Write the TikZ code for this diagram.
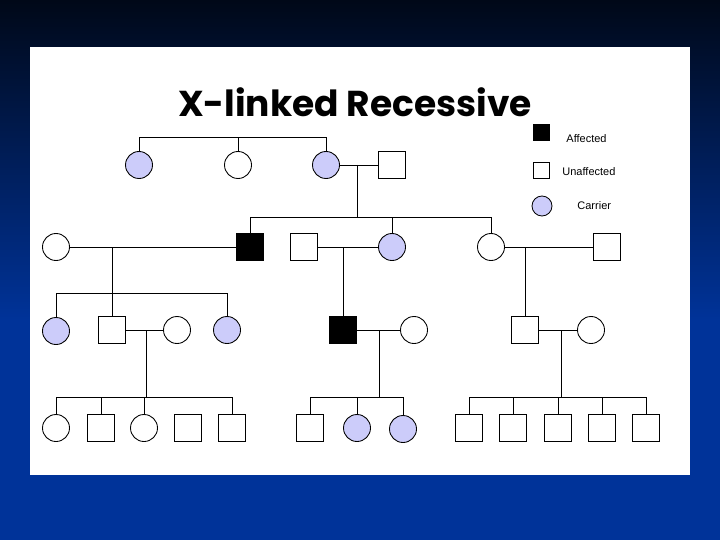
\documentclass[tikz,border=0pt]{standalone}
\usepackage{fontspec}
\setmainfont{Liberation Sans}
\newfontfamily\titlefont{Poppins}
\usetikzlibrary{positioning}
\definecolor{carrierblue}{RGB}{204,204,250}
\definecolor{slidetop}{RGB}{0,8,24}
\definecolor{slidebottom}{RGB}{0,51,153}
\tikzset{
	every node/.append style={
		inner sep=0pt,
	},
	male/.style={
		draw,
		rectangle,
		fill=white,
		minimum size=27pt,
	},
	female/.style={
		draw,
		circle,
		fill=white,
		minimum size=27pt,
	},
	affected/.append style={
		fill=black,
	},
	carrier/.append style={
		fill=carrierblue,
	},
	keylabel/.style={
		anchor=west,
		font={\fontsize{11}{12}\selectfont}
	}
}

\begin{document}
\begin{tikzpicture}[x=1pt, y=-1pt, line width=0.85pt]
\useasboundingbox (0,0) rectangle (720,540);
\fill[slidebottom] (0,0) rectangle (720,540);
\shade[top color=slidetop, bottom color=slidebottom] (0,0) rectangle (720,320);
\fill[white] (30,47) rectangle (690,475);

\node[font={\titlefont\bfseries\fontsize{36}{42}\selectfont}] (title) at (355,102) {X-linked Recessive};

% key
\node[male, affected, minimum size=16pt] (keyA) at (541,132) {};
\node[keylabel] (labA) at (566,139) {Affected};
\node[male, minimum size=16pt] (keyU) at (541,170) {};
\node[keylabel] (labU) at (562,172) {Unaffected};
\node[female, carrier, minimum size=20pt] (keyC) at (542,206) {};
\node[keylabel] (labC) at (577,206) {Carrier};

% generation I
\node[female, carrier] (I1) at (139,165) {};
\node[female] (I2) at (238,165) {};
\node[female, carrier] (I3) at (326,165) {};
\node[male] (I4) at (392,165) {};

% generation II
\node[female] (II1) at (56,247) {};
\node[male, affected] (II2) at (250,247) {};
\node[male] (II3) at (304,247) {};
\node[female, carrier] (II4) at (392,247) {};
\node[female] (II5) at (491,247) {};
\node[male] (II6) at (607,247) {};

% generation III
\node[female, carrier] (III1) at (56,331) {};
\node[male] (III2) at (112,330) {};
\node[female] (III3) at (177,330) {};
\node[female, carrier] (III4) at (227,330) {};
\node[male, affected] (III5) at (343,330) {};
\node[female] (III6) at (414,330) {};
\node[male] (III7) at (525,330) {};
\node[female] (III8) at (591,330) {};

% generation IV
\node[female] (IV1) at (56,428) {};
\node[male] (IV2) at (101,428) {};
\node[female] (IV3) at (144,428) {};
\node[male] (IV4) at (188,428) {};
\node[male] (IV5) at (232,428) {};
\node[male] (IV6) at (310,428) {};
\node[female, carrier] (IV7) at (357,428) {};
\node[female, carrier] (IV8) at (403,429) {};
\node[male] (IV9) at (469,428) {};
\node[male] (IV10) at (513,428) {};
\node[male] (IV11) at (558,428) {};
\node[male] (IV12) at (602,428) {};
\node[male] (IV13) at (646,428) {};

% sibship rows and descent points
\coordinate (sI) at (0,137);
\coordinate (sII) at (0,217);
\coordinate (sIII) at (0,293);
\coordinate (sIV) at (0,397);
\coordinate (dI) at (357,165);
\coordinate (dII) at (112,247);
\coordinate (dIIIa) at (146,330);
\coordinate (dIIIb) at (379,330);
\coordinate (dIIIc) at (561,330);

% I
\draw (I1) |- (I3 |- sI) -- (I3);
\draw (I2) -- (I2 |- sI);
\draw (I3) -- (I4);
\draw (dI) -- (dI |- sII);

% II
\draw (II2) |- (II5 |- sII) -- (II5);
\draw (II4) -- (II4 |- sII);
\draw (II1) -- (II2);
\draw (dII) -- (dII |- sIII);
\draw (II3) -- (II4);
\draw (III5) -- (III5 |- II3);
\draw (II5) -- (II6);
\draw (III7) -- (III7 |- II5);

% III
\draw (III1) |- (III4 |- sIII) -- (III4);
\draw (III2) -- (III2 |- sIII);
\draw (III2) -- (III3);
\draw (dIIIa) -- (dIIIa |- sIV);
\draw (III5) -- (III6);
\draw (dIIIb) -- (dIIIb |- sIV);
\draw (III7) -- (III8);
\draw (dIIIc) -- (dIIIc |- sIV);

% IV
\draw (IV1) |- (IV5 |- sIV) -- (IV5);
\draw (IV2) -- (IV2 |- sIV);
\draw (IV3) -- (IV3 |- sIV);
\draw (IV6) |- (IV8 |- sIV) -- (IV8);
\draw (IV7) -- (IV7 |- sIV);
\draw (IV9) |- (IV13 |- sIV) -- (IV13);
\foreach \n in {IV10,IV11,IV12}
	\draw (\n) -- (\n |- sIV);
\end{tikzpicture}
\end{document}
